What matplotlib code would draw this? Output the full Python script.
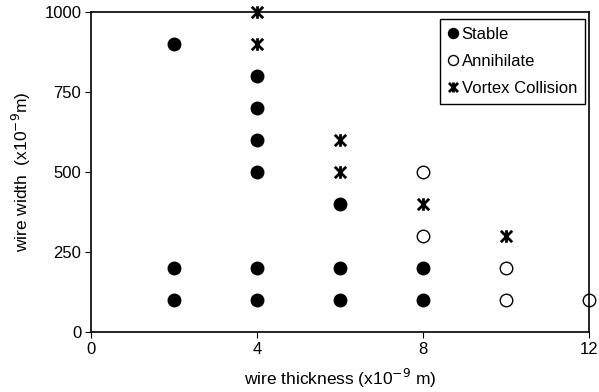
import matplotlib
matplotlib.use("Agg")
import matplotlib.pyplot as plt
from matplotlib.path import Path

plt.rcParams['font.family'] = ['Liberation Sans', 'DejaVu Sans']

stable_x = [2, 2, 2, 4, 4, 4, 4, 4, 4, 6, 6, 6, 8, 8]
stable_y = [900, 200, 100, 800, 700, 600, 500, 200, 100, 400, 200, 100, 200, 100]
annih_x = [8, 8, 10, 10, 12]
annih_y = [500, 300, 200, 100, 100]
vortex_x = [4, 4, 6, 6, 8, 10]
vortex_y = [1000, 900, 600, 500, 400, 300]

xticks = [0, 4, 8, 12]
yticks = [0, 250, 500, 750, 1000]

# asterisk-like marker: X with a vertical bar
star = Path([(-1, -1), (1, 1), (-1, 1), (1, -1), (0, -1.1), (0, 1.1)],
            [Path.MOVETO, Path.LINETO, Path.MOVETO, Path.LINETO, Path.MOVETO, Path.LINETO])

fig = plt.figure(figsize=(5.99, 3.92), dpi=100)
ax = fig.add_axes([0.152, 0.153, 0.831, 0.816])

ax.plot(stable_x, stable_y, linestyle='none', marker='o', markersize=9,
        markerfacecolor='black', markeredgecolor='black', clip_on=False, label='Stable')
ax.plot(annih_x, annih_y, linestyle='none', marker='o', markersize=9,
        markerfacecolor='white', markeredgecolor='black', markeredgewidth=1.0,
        clip_on=False, label='Annihilate')
ax.plot(vortex_x, vortex_y, linestyle='none', marker=star, markersize=9,
        markeredgecolor='black', markeredgewidth=2.0, clip_on=False,
        label='Vortex Collision')

ax.set_xlim(0, 12)
ax.set_ylim(0, 1000)
ax.set_xticks(xticks)
ax.set_yticks(yticks)
ax.tick_params(direction='out', length=4, width=0.8, labelsize=12, colors='black', pad=3)
for s in ax.spines.values():
    s.set_linewidth(1.2)
    s.set_color('black')

ax.set_xlabel('wire thickness (x10$^{-9}$ m)', fontsize=12.5, labelpad=7)
ax.set_ylabel('wire width  (x10$^{-9}$m)', fontsize=12.5, labelpad=8)

leg = ax.legend(loc='upper right', bbox_to_anchor=(1.0, 0.99), fontsize=12,
                frameon=True, fancybox=False, edgecolor='black', framealpha=1,
                handlelength=0.5, handletextpad=0.3, borderpad=0.5,
                labelspacing=0.72, markerscale=0.8, borderaxespad=0.2)
leg.get_frame().set_linewidth(1.0)

fig.savefig('out.png', dpi=100)
